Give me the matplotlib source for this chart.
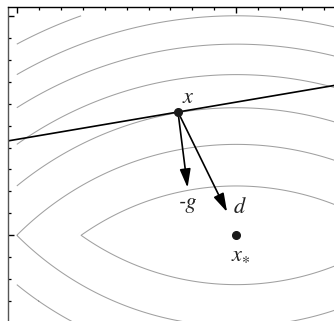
import numpy as np
import matplotlib
matplotlib.use("Agg")
import matplotlib.pyplot as plt
from matplotlib.ticker import MultipleLocator, NullFormatter

plt.rcParams['mathtext.fontset'] = 'stix'

# contour levels of f(x, y) = max(x^2 + (y+1)^2, x^2 + (y-1)^2)
levels = [1.5, 2.0, 2.5, 3.0, 3.5, 4.0, 4.5]
domain = [-1.0, 1.0]

# points
x_pt = [-0.2656, 0.5617]
x_star = [0.0, 0.0]
neg_g_tip = [-0.222, 0.217]
d_tip = [-0.042, 0.106]
tangent_slope = 0.170

labels = ["x", "-g", "d", "x_*"]
label_pos = [(-0.220, 0.632), (-0.220, 0.150), (0.014, 0.129), (0.021, -0.084)]

W, H = 334, 321
fig = plt.figure(figsize=(W / 100, H / 100), dpi=100)
scale = 219.5  # px per unit
cx, cy = 236.3, 235.3  # pixel of origin (from top-left)
span = 2.08
ax = fig.add_axes([(cx - 1.04 * scale) / W, (H - (cy + 1.04 * scale)) / H,
                   span * scale / W, span * scale / H])
ax.set_xlim(-1.04, 1.04)
ax.set_ylim(-1.04, 1.04)

g = np.linspace(domain[0], domain[1], 1201)
X, Y = np.meshgrid(g, g)
F = np.maximum(X**2 + (Y + 1)**2, X**2 + (Y - 1)**2)
ax.contour(X, Y, F, levels=levels, colors='#a0a0a0', linewidths=0.75)

ax.axline(x_pt, slope=tangent_slope, color='black', lw=1.2)

for tip in (neg_g_tip, d_tip):
    ax.annotate('', xy=tip, xytext=x_pt,
                arrowprops=dict(arrowstyle='-|>,head_length=0.75,head_width=0.22',
                                color='black', lw=1.2, shrinkA=0, shrinkB=0,
                                mutation_scale=15))

ax.plot([x_pt[0], x_star[0]], [x_pt[1], x_star[1]], 'o', color='#1a1a1a',
        ms=5.5, ls='none', zorder=5)

txts = [r'$x$', '-g', r'$d$', r'$x_{\ast}$']
for t, (px, py) in zip(txts, label_pos):
    if t == '-g':
        ax.text(px, py, t, fontsize=16, family='STIXGeneral', style='italic',
                ha='center', va='center', color='#222222')
    else:
        ax.text(px, py, t, fontsize=16, ha='center', va='center', color='#222222')

ax.xaxis.set_major_locator(MultipleLocator(1))
ax.yaxis.set_major_locator(MultipleLocator(1))
ax.xaxis.set_minor_locator(MultipleLocator(0.1))
ax.yaxis.set_minor_locator(MultipleLocator(0.1))
ax.xaxis.set_major_formatter(NullFormatter())
ax.yaxis.set_major_formatter(NullFormatter())
ax.tick_params(which='both', direction='in', top=True, bottom=False,
               left=True, right=False, labeltop=False, labelbottom=False,
               labelleft=False)
ax.tick_params(which='major', length=4.5, width=1.0)
ax.tick_params(which='minor', length=2.5, width=0.9)
for s in ax.spines.values():
    s.set_linewidth(1.0)
ax.spines['left'].set_color('#555555')

fig.savefig('out.png', dpi=100)
